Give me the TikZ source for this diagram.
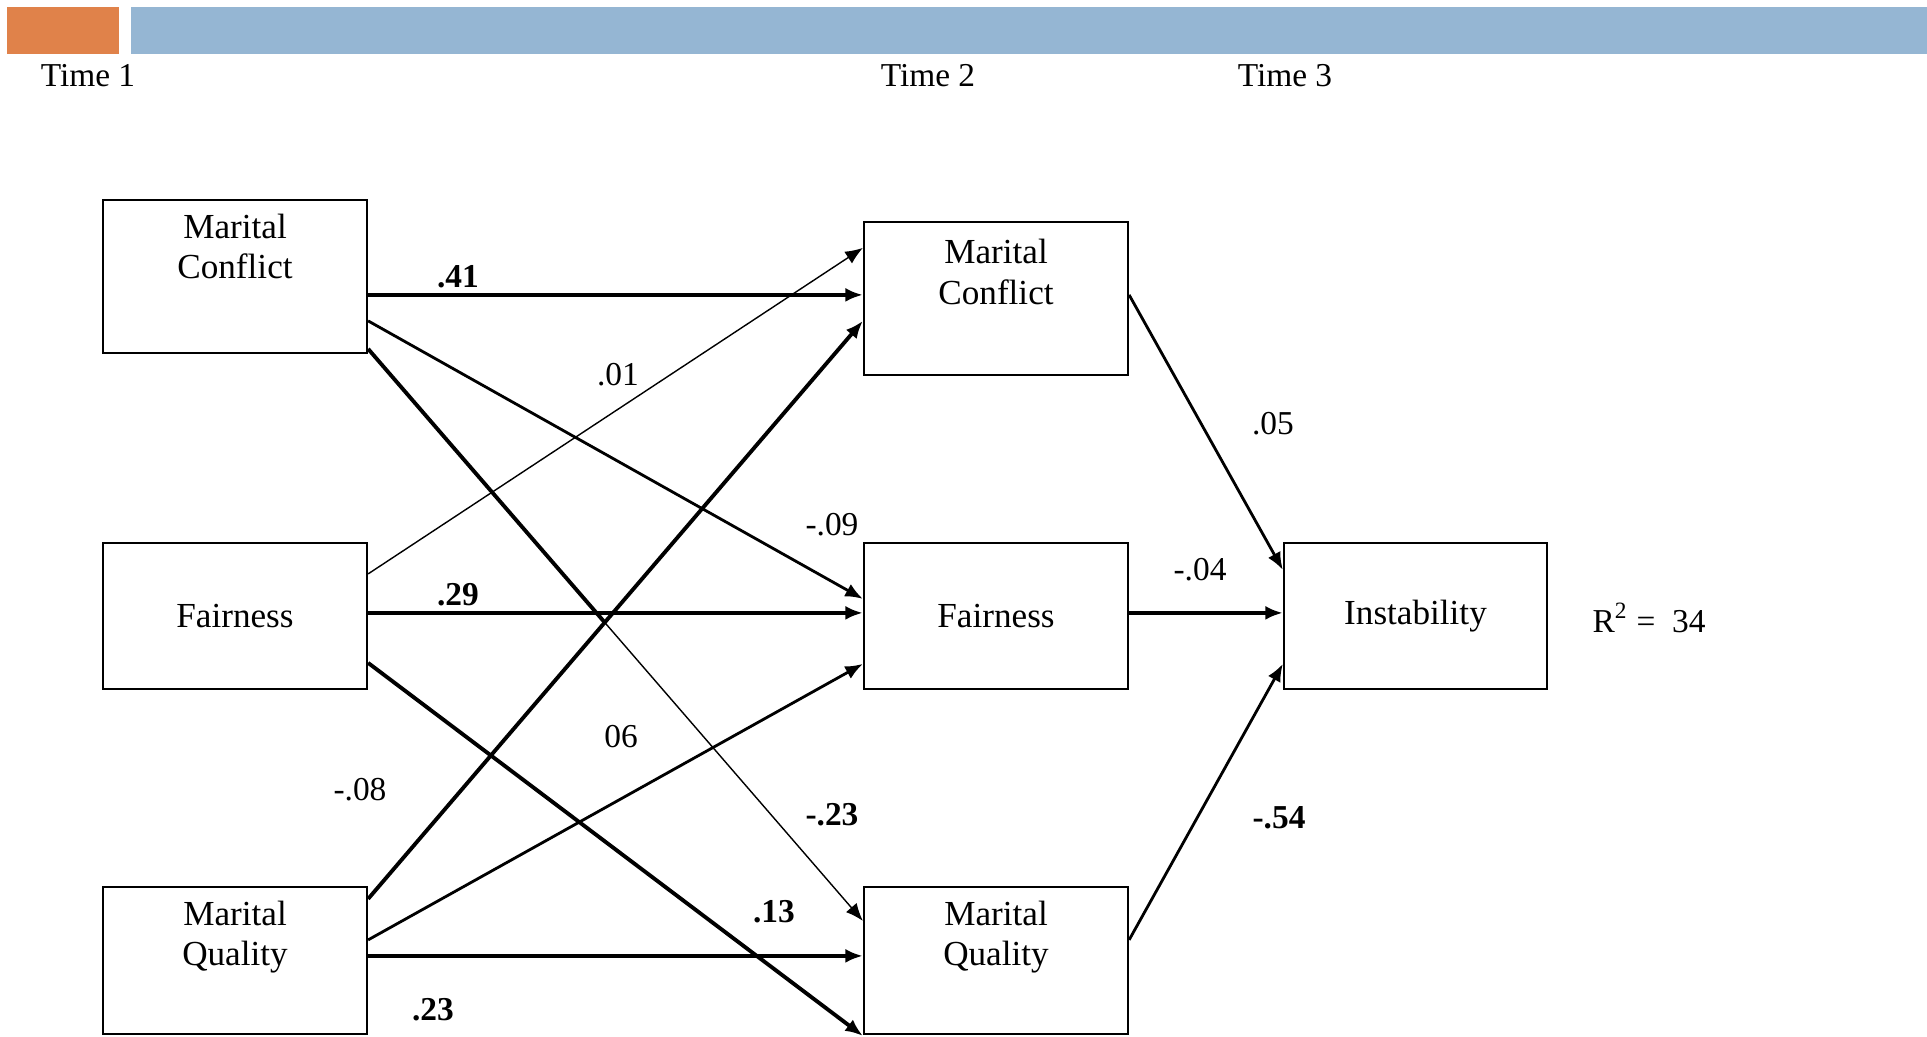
\documentclass[tikz,border=0pt]{standalone}
\usepackage{fontspec}
\setmainfont{Liberation Serif}
\usetikzlibrary{calc,positioning,arrows.meta}

\definecolor{headorange}{RGB}{224,130,74}
\definecolor{headblue}{RGB}{149,182,211}

\begin{document}
\begin{tikzpicture}[x=0.01cm,y=-0.01cm,
  varbox/.style={draw,line width=0.6pt,minimum width=2.64cm,inner sep=0pt,font=\fontsize{10}{11.5}\selectfont},
  varname/.style={align=center,font=\fontsize{10}{11.5}\selectfont,inner sep=3pt},
  timelab/.style={font=\fontsize{9.5}{11}\selectfont,inner sep=0pt},
  link/.style={line width=1.1pt,-{Latex[length=5pt,width=4pt]}},
  midlink/.style={line width=0.8pt,-{Latex[length=5pt,width=4pt]}},
  weaklink/.style={line width=0.4pt,-{Latex[length=5pt,width=4pt]}},
  coef/.style={font=\fontsize{9.5}{11}\selectfont,inner sep=1pt},
  coefb/.style={font=\fontsize{9.5}{11}\selectfont\bfseries,inner sep=1pt}]

\useasboundingbox (0,0) rectangle (1927,1037);

% header bar
\fill [headorange] (7,7) rectangle (119,54);
\fill [headblue] (131,7) rectangle (1927,54);

\node [timelab] (time1) at (88,76) {Time 1};
\node [timelab] (time2) at (928,76) {Time 2};
\node [timelab] (time3) at (1285,76) {Time 3};

% time 1
\node [varbox,minimum height=1.53cm] (lmc) at (235,276.5) {};
\node [varname,below=1pt of lmc.north] (lmctext) {Marital\\Conflict};
\node [varbox,minimum height=1.46cm] (lfair) at (235,616) {Fairness};
\node [varbox,minimum height=1.47cm] (lmq) at (235,960.5) {};
\node [varname,below=1pt of lmq.north] (lmqtext) {Marital\\Quality};

% time 2
\node [varbox,minimum height=1.53cm] (mmc) at (996,298.5) {};
\node [varname,below=2pt of mmc.north] (mmctext) {Marital\\Conflict};
\node [varbox,minimum height=1.46cm] (mfair) at (996,616) {Fairness};
\node [varbox,minimum height=1.47cm] (mmq) at (996,960.5) {};
\node [varname,below=1pt of mmq.north] (mmqtext) {Marital\\Quality};

% time 3
\node [varbox,minimum width=2.63cm,minimum height=1.46cm] (inst) at (1415.5,616) {Instability};
\node [coef] (rsq) at (1649,618) {R\textsuperscript{2} =\ \ 34};

% paths from marital conflict
\draw [link] ($(lmc.north east)+(0,96)$) -- ($(mmc.north west)+(0,74)$);
\draw [midlink] ($(lmc.north east)+(0,122)$) -- ($(mfair.north west)+(0,57)$);
\coordinate (mcfoot) at ($(lmc.north east)+(0,150)$);
\coordinate (mqhead) at ($(mmq.north west)+(0,35)$);
\coordinate (bend) at ($(mcfoot)!0.48!(mqhead)$);
\draw [line width=1.1pt] (mcfoot) -- (bend);
\draw [weaklink] (bend) -- (mqhead);

% paths from fairness
\draw [weaklink] ($(lfair.north east)+(0,32)$) -- ($(mmc.north west)+(0,27)$);
\draw [link] ($(lfair.north east)+(0,71)$) -- ($(mfair.north west)+(0,71)$);
\draw [link] ($(lfair.north east)+(0,121)$) -- ($(mmq.north west)+(0,150)$);

% paths from marital quality
\draw [link] ($(lmq.north east)+(0,13)$) -- ($(mmc.north west)+(0,100)$);
\draw [midlink] ($(lmq.north east)+(0,54)$) -- ($(mfair.north west)+(0,122)$);
\draw [link] ($(lmq.north east)+(0,70)$) -- ($(mmq.north west)+(0,70)$);

% paths to instability
\draw [midlink] ($(mmc.north east)+(0,74)$) -- ($(inst.north west)+(0,28)$);
\draw [link] ($(mfair.north east)+(0,71)$) -- ($(inst.north west)+(0,71)$);
\draw [midlink] ($(mmq.north east)+(0,54)$) -- ($(inst.north west)+(0,122)$);

% coefficients
\node [coefb] (c41) at (458,277) {.41};
\node [coefb] (c29) at (458,595) {.29};
\node [coef] (c01) at (618,375) {.01};
\node [coef] (c09) at (832,525) {-.09};
\node [coefb] (c23a) at (832,815) {-.23};
\node [coefb] (c13) at (774,912) {.13};
\node [coef] (c08) at (360,790) {-.08};
\node [coef] (c06) at (621,737) {06};
\node [coefb] (c23b) at (433,1010) {.23};
\node [coef] (c05) at (1273,424) {.05};
\node [coef] (c04) at (1200,570) {-.04};
\node [coefb] (c54) at (1279,818) {-.54};

\end{tikzpicture}
\end{document}
